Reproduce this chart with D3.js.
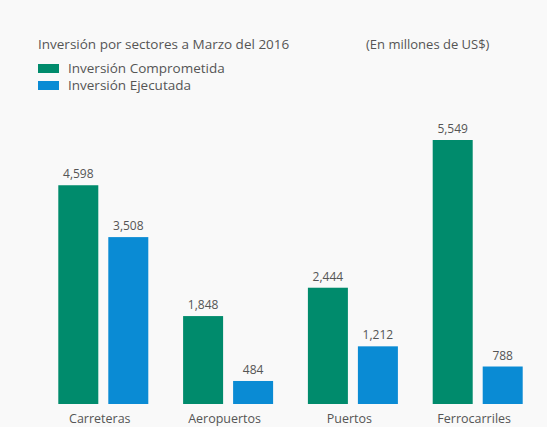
<!DOCTYPE html>
<html><head><meta charset="utf-8">
<script src="https://cdn.jsdelivr.net/npm/d3@7"></script>
<style>
html,body{margin:0;padding:0;background:#f9f9f9;}
svg{display:block;font-family:"Open Sans","Noto Sans",sans-serif;}
</style></head>
<body>
<script>
const categories = ["Carreteras", "Aeropuertos", "Puertos", "Ferrocarriles"];
const seriesNames = ["Inversión Comprometida", "Inversión Ejecutada"];
const comprometida = [4598, 1848, 2444, 5549];
const ejecutada = [3508, 484, 1212, 788];
const colors = ["#008b6c", "#0a8bd4"];
const title = "Inversión por sectores a Marzo del 2016";
const unitNote = "(En millones de US$)";

const W = 547, H = 427;
const svg = d3.select("body").append("svg").attr("width", W).attr("height", H);
svg.append("rect").attr("width", W).attr("height", H).attr("fill", "#f9f9f9");

const baseline = 404;
const y = d3.scaleLinear().domain([0, 5549]).range([baseline, 140]);
const x0 = d3.scalePoint().domain(categories).range([103.3, 477.7]);
const x1 = d3.scaleBand().domain([0, 1]).range([-45, 45]).paddingInner(0.2);
const fmt = d3.format(",");

const series = [comprometida, ejecutada];

// title
svg.append("text").attr("x", 38).attr("y", 49).attr("font-size", 13.5).attr("fill", "#555").text(title);
svg.append("text").attr("x", 366).attr("y", 49).attr("font-size", 13).attr("fill", "#555").text(unitNote);

// legend
const leg = svg.append("g");
seriesNames.forEach((n, i) => {
  const g = leg.append("g").attr("transform", `translate(38,${64 + i * 17})`);
  g.append("rect").attr("width", 21).attr("height", 9).attr("fill", colors[i]);
  g.append("text").attr("x", 30).attr("y", 9).attr("font-size", 13.5).attr("fill", "#555").text(n);
});

// bars
categories.forEach((c, ci) => {
  series.forEach((s, si) => {
    const v = s[ci];
    const bx = x0(c) + x1(si);
    svg.append("rect")
      .attr("x", bx).attr("y", y(v))
      .attr("width", x1.bandwidth()).attr("height", baseline - y(v))
      .attr("fill", colors[si]);
    svg.append("text")
      .attr("x", bx + x1.bandwidth() / 2).attr("y", y(v) - 7)
      .attr("text-anchor", "middle").attr("font-size", 12).attr("fill", "#555")
      .text(fmt(v));
  });
});

// category axis labels
const xAxis = d3.axisBottom(x0).tickSize(0).tickPadding(0);
const ax = svg.append("g").attr("transform", `translate(-4,${baseline})`).call(xAxis);
ax.select(".domain").remove();
ax.selectAll("text").attr("font-size", 12.5).attr("fill", "#555")
  .attr("font-family", "'Open Sans','Noto Sans',sans-serif").attr("dy", "1.2em").attr("y", 4);
</script>
</body></html>
